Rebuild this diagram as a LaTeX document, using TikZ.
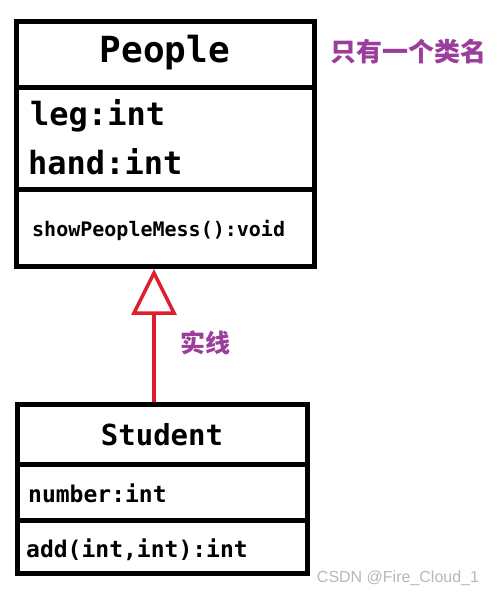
\documentclass[tikz,border=0pt]{standalone}
\usepackage{fontspec}
\setmonofont{DejaVu Sans Mono}
\newfontfamily\cjk{Noto Sans CJK SC}
\newfontfamily\wm{Liberation Sans}
\definecolor{umlred}{RGB}{222,30,45}
\definecolor{umlpurple}{RGB}{155,62,155}
\tikzset{
  classbox/.style={draw=black, line width=5pt, fill=white, inner sep=0pt},
  divider/.style={draw=black, line width=5pt},
  mono/.style={inner sep=0pt, font=\ttfamily\bfseries},
  note/.style={inner sep=0pt, text=umlpurple, font=\cjk\bfseries},
  inheritline/.style={draw=umlred, line width=4pt},
  inherithead/.style={draw=umlred, fill=white, line width=3.5pt, line join=miter}
}
\begin{document}
\begin{tikzpicture}[x=1pt,y=-1pt]
\useasboundingbox (0,0) rectangle (497,596);
\fill[white] (0,0) rectangle (497,596);
% People class
\node[classbox, minimum width=298pt, minimum height=245pt] (people) at (165.5,144) {};
\draw[divider] (16.5,87.5) -- (314.5,87.5);
\draw[divider] (16.5,189.5) -- (314.5,189.5);
\node[mono, anchor=base, font=\ttfamily\bfseries\fontsize{36}{36}\selectfont] (pname) at (165,63) {People};
\node[mono, anchor=base west, font=\ttfamily\bfseries\fontsize{32}{32}\selectfont] (leg) at (30,126) {leg:int};
\node[mono, anchor=base west, font=\ttfamily\bfseries\fontsize{32}{32}\selectfont] (hand) at (28,174) {hand:int};
\node[mono, anchor=base west, font=\ttfamily\bfseries\fontsize{20}{20}\selectfont] (show) at (32,236) {showPeopleMess():void};
% Student class
\node[classbox, minimum width=290pt, minimum height=169pt] (student) at (162.5,489) {};
\draw[divider] (17.5,464.5) -- (307.5,464.5);
\draw[divider] (17.5,520.5) -- (307.5,520.5);
\node[mono, anchor=base, font=\ttfamily\bfseries\fontsize{29}{29}\selectfont] (sname) at (162,445) {Student};
\node[mono, anchor=base west, font=\ttfamily\bfseries\fontsize{23}{23}\selectfont] (number) at (28,502) {number:int};
\node[mono, anchor=base west, font=\ttfamily\bfseries\fontsize{23}{23}\selectfont] (add) at (26,557) {add(int,int):int};
% inheritance arrow
\coordinate (sfrom) at ([xshift=-8.5pt]student.north);
\coordinate (apex) at ([yshift=-4pt]sfrom |- people.south);
\coordinate (basemid) at ([yshift=-40pt]apex);
\coordinate (baseL) at ([xshift=-20pt]basemid);
\coordinate (baseR) at ([xshift=20pt]basemid);
\draw[inheritline] (sfrom) -- (basemid);
\draw[inherithead] (apex) -- (baseR) -- (baseL) -- cycle;
% notes
\node[note, font=\cjk\bfseries\fontsize{26}{26}\selectfont] (n1) at (408,52) {只有一个类名};
\node[note, font=\cjk\bfseries\fontsize{25}{25}\selectfont] (n2) at (205,343) {实线};
% watermark
\node[inner sep=0pt, text=black!28, font=\wm\fontsize{16}{16}\selectfont] (wmark) at (398,578) {CSDN @Fire\_Cloud\_1};
\end{tikzpicture}
\end{document}
